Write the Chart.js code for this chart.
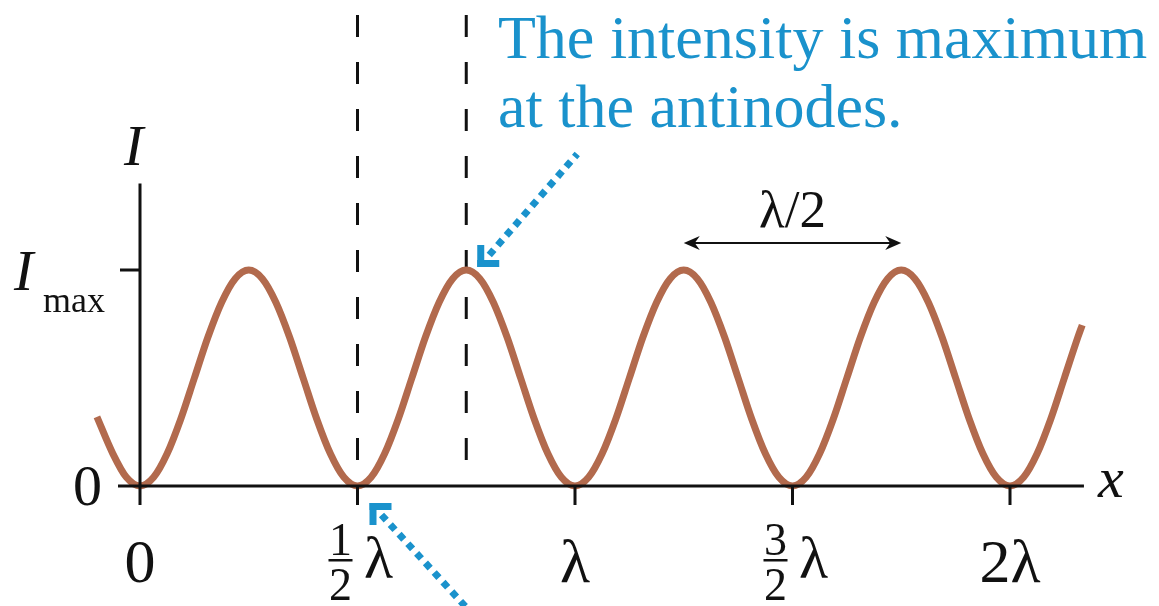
<!DOCTYPE html>
<html>
<head>
<meta charset="utf-8">
<script src="https://cdn.jsdelivr.net/npm/chart.js@4.4.1/dist/chart.umd.min.js"></script>
<style>
  html, body { margin: 0; padding: 0; background: #fff; }
</style>
</head>
<body>
<canvas id="chart" width="1159" height="606"></canvas>
<script>
// position along the string, in wavelengths (one row per half wavelength)
const positions = [-0.099, -0.0625, -0.03125,
  0, 0.03125, 0.0625, 0.09375, 0.125, 0.15625, 0.1875, 0.21875,
  0.25, 0.28125, 0.3125, 0.34375, 0.375, 0.40625, 0.4375, 0.46875,
  0.5, 0.53125, 0.5625, 0.59375, 0.625, 0.65625, 0.6875, 0.71875,
  0.75, 0.78125, 0.8125, 0.84375, 0.875, 0.90625, 0.9375, 0.96875,
  1, 1.03125, 1.0625, 1.09375, 1.125, 1.15625, 1.1875, 1.21875,
  1.25, 1.28125, 1.3125, 1.34375, 1.375, 1.40625, 1.4375, 1.46875,
  1.5, 1.53125, 1.5625, 1.59375, 1.625, 1.65625, 1.6875, 1.71875,
  1.75, 1.78125, 1.8125, 1.84375, 1.875, 1.90625, 1.9375, 1.96875,
  2, 2.03125, 2.0625, 2.09375, 2.125, 2.15625, 2.166];

// intensity as a fraction of I_max
const intensity = [0.32, 0.15, 0.04,
  0, 0.04, 0.15, 0.31, 0.5, 0.69, 0.85, 0.96,
  1, 0.96, 0.85, 0.69, 0.5, 0.31, 0.15, 0.04,
  0, 0.04, 0.15, 0.31, 0.5, 0.69, 0.85, 0.96,
  1, 0.96, 0.85, 0.69, 0.5, 0.31, 0.15, 0.04,
  0, 0.04, 0.15, 0.31, 0.5, 0.69, 0.85, 0.96,
  1, 0.96, 0.85, 0.69, 0.5, 0.31, 0.15, 0.04,
  0, 0.04, 0.15, 0.31, 0.5, 0.69, 0.85, 0.96,
  1, 0.96, 0.85, 0.69, 0.5, 0.31, 0.15, 0.04,
  0, 0.04, 0.15, 0.31, 0.5, 0.69, 0.745];

// x axis ticks (in wavelengths) and their labels
const tickValues = [0, 0.5, 1, 1.5, 2];
const tickFraction = ['', '1', '', '3', ''];
const tickText = ['0', 'λ', 'λ', 'λ', '2λ'];

// dashed guides: a node and an antinode
const guideLines = [0.5, 0.75];

const serif = '"Liberation Serif", "DejaVu Serif", serif';
const blue = '#1a92cc';
const ink = '#111';

function arrowHead(ctx, x, y, dir) {
  ctx.beginPath();
  ctx.moveTo(x, y);
  ctx.lineTo(x - dir * 16, y - 7);
  ctx.lineTo(x - dir * 11, y);
  ctx.lineTo(x - dir * 16, y + 7);
  ctx.closePath();
  ctx.fill();
}

// blue dotted pointer with a square corner at (cx, cy)
function pointer(ctx, cx, cy, tx, ty, sx, sy) {
  ctx.save();
  ctx.strokeStyle = blue;
  ctx.fillStyle = blue;
  ctx.lineWidth = 7;
  ctx.setLineDash([7, 6]);
  ctx.beginPath();
  ctx.moveTo(cx + sx * 12, cy + sy * 12);
  ctx.lineTo(tx, ty);
  ctx.stroke();
  ctx.setLineDash([]);
  // corner bracket
  ctx.fillRect(cx, sy > 0 ? cy : cy - 7, sx * 22, 7);
  ctx.fillRect(sx > 0 ? cx : cx - 7, cy, 7, sy * 22);
  ctx.restore();
}

const decorations = {
  id: 'decorations',
  beforeDatasetsDraw(chart) {
    const ctx = chart.ctx;
    const xs = chart.scales.x, ys = chart.scales.y;
    ctx.save();
    ctx.strokeStyle = ink;
    ctx.lineWidth = 3;
    ctx.setLineDash([22, 25]);
    guideLines.forEach(v => {
      const px = xs.getPixelForValue(v);
      ctx.beginPath();
      ctx.moveTo(px, 15);
      ctx.lineTo(px, ys.getPixelForValue(0.08));
      ctx.stroke();
    });
    ctx.restore();
  },
  afterDatasetsDraw(chart) {
    const ctx = chart.ctx;
    const xs = chart.scales.x, ys = chart.scales.y;
    const x0 = xs.getPixelForValue(0);
    const y0 = ys.getPixelForValue(0);
    const y1 = ys.getPixelForValue(1);

    ctx.save();
    ctx.strokeStyle = ink;
    ctx.fillStyle = ink;
    ctx.lineWidth = 3;

    // axes
    ctx.beginPath();
    ctx.moveTo(x0 - 22, y0);
    ctx.lineTo(xs.getPixelForValue(2.17), y0);
    ctx.moveTo(x0, ys.getPixelForValue(1.4));
    ctx.lineTo(x0, y0 + 19);
    ctx.moveTo(x0 - 20, y1);
    ctx.lineTo(x0, y1);
    tickValues.forEach(v => {
      const px = xs.getPixelForValue(v);
      ctx.moveTo(px, y0);
      ctx.lineTo(px, y0 + 19);
    });
    ctx.stroke();

    // tick labels
    ctx.textBaseline = 'alphabetic';
    tickValues.forEach((v, i) => {
      const px = xs.getPixelForValue(v);
      if (tickFraction[i]) {
        const fx = px - 17;
        ctx.font = '46px ' + serif;
        ctx.textAlign = 'center';
        ctx.fillText(tickFraction[i], fx, 555);
        ctx.fillText('2', fx, 600);
        ctx.fillRect(fx - 12, 559, 24, 2.5);
        ctx.font = '60px ' + serif;
        ctx.fillText(tickText[i], px + 21, 578);
      } else {
        ctx.font = '62px ' + serif;
        ctx.textAlign = 'center';
        ctx.fillText(tickText[i], px, 582);
      }
    });

    // y axis labels
    ctx.font = '58px ' + serif;
    ctx.textAlign = 'right';
    ctx.fillText('0', x0 - 38, y0 + 19);
    ctx.textAlign = 'left';
    ctx.font = 'italic 58px ' + serif;
    ctx.fillText('I', 14, 290);
    ctx.font = '36px ' + serif;
    ctx.fillText('max', 43, 312);
    ctx.font = 'italic 58px ' + serif;
    ctx.fillText('I', x0 - 16, 165);
    ctx.fillText('x', xs.getPixelForValue(2.17) + 14, y0 + 11);

    // half-wavelength spacing between antinodes
    const a = xs.getPixelForValue(1.25), b = xs.getPixelForValue(1.75);
    const ay = y1 - 27;
    ctx.lineWidth = 2;
    ctx.beginPath();
    ctx.moveTo(a + 4, ay);
    ctx.lineTo(b - 4, ay);
    ctx.stroke();
    arrowHead(ctx, a, ay, -1);
    arrowHead(ctx, b, ay, 1);
    ctx.font = '53px ' + serif;
    ctx.textAlign = 'center';
    ctx.fillText('λ/2', (a + b) / 2, ay - 16);

    // note and pointers
    ctx.fillStyle = blue;
    ctx.textAlign = 'left';
    ctx.font = '62px ' + serif;
    ctx.fillText('The intensity is maximum', 498, 58);
    ctx.fillText('at the antinodes.', 498, 127);
    ctx.restore();

    const ax = xs.getPixelForValue(0.75);
    pointer(ctx, ax + 11, y1 - 3, ax + 111, y1 - 116, 1, -1);
    const nx = xs.getPixelForValue(0.5);
    pointer(ctx, nx + 12, y0 + 17, nx + 112, y0 + 125, 1, 1);
  }
};

new Chart(document.getElementById('chart'), {
  type: 'line',
  data: {
    datasets: [{
      data: positions.map((x, i) => ({ x: x, y: intensity[i] })),
      borderColor: '#b26a4d',
      borderWidth: 7,
      pointRadius: 0,
      cubicInterpolationMode: 'monotone',
      clip: false
    }]
  },
  options: {
    responsive: false,
    animation: false,
    events: [],
    layout: { padding: 0 },
    plugins: { legend: { display: false }, tooltip: { enabled: false } },
    scales: {
      x: { type: 'linear', min: -140 / 435, max: 1019 / 435, display: false },
      y: { type: 'linear', min: 2.25 - 606 / 216, max: 2.25, display: false }
    }
  },
  plugins: [decorations]
});
</script>
</body>
</html>
